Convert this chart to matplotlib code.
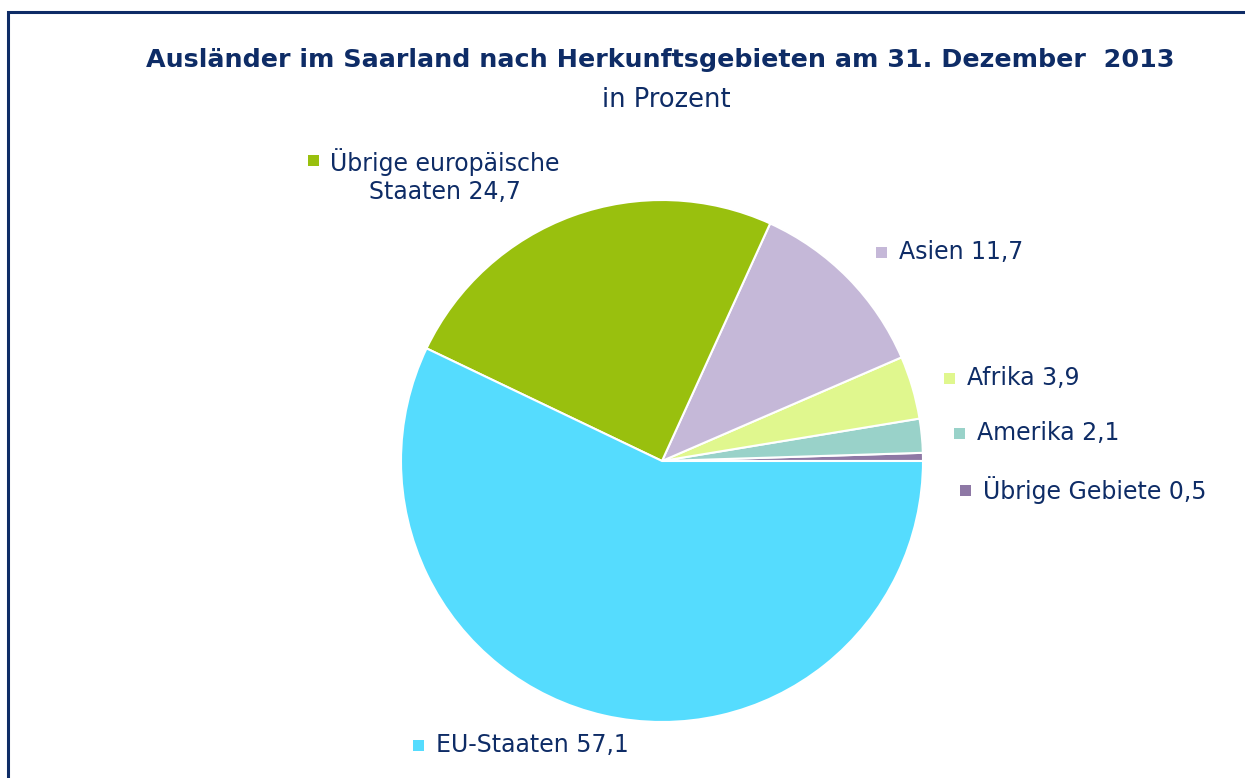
import matplotlib.pyplot as plt
from matplotlib.patches import Rectangle

# Data (order: counterclockwise from 3 o'clock)
regions = ['Übrige Gebiete', 'Amerika', 'Afrika', 'Asien',
           'Übrige europäische\nStaaten', 'EU-Staaten']
shares = [0.5, 2.1, 3.9, 11.7, 24.7, 57.1]
colors = ['#8E78A5', '#99D2C9', '#E0F78E', '#C5B8D8', '#99C00E', '#55DCFE']

# Label anchor positions in pixels (left of marker, vertical centre), y from top
label_pos = [(960, 490), (954, 433), (944, 378), (876, 252), (308, 160), (413, 745)]

NAVY = '#0E2C66'
W, H = 1245, 778
FS = 17.0

fig = plt.figure(figsize=(W / 100, H / 100), dpi=100)
ax = fig.add_axes([0, 0, 1, 1])
ax.set_xlim(0, W)
ax.set_ylim(0, H)
ax.set_aspect('equal')
ax.axis('off')

# Frame (cut off at right and bottom like the reference)
ax.add_patch(Rectangle((8, -20), W + 40, H - 12 + 20, fill=False,
                       edgecolor=NAVY, linewidth=2.2))

ax.pie(shares, colors=colors, startangle=0, counterclock=True,
       center=(662, H - 461), radius=261,
       wedgeprops=dict(edgecolor='white', linewidth=1.5))
ax.set_xlim(0, W)
ax.set_ylim(0, H)

ax.text(660, H - 60, 'Ausländer im Saarland nach Herkunftsgebieten am 31. Dezember  2013',
        ha='center', va='center', fontsize=18.3, fontweight='bold', color=NAVY)
ax.text(666, H - 100, 'in Prozent', ha='center', va='center', fontsize=18.5, color=NAVY)

for name, val, col, (x, y) in zip(regions, shares, colors, label_pos):
    ax.add_patch(Rectangle((x, H - y - 5.5), 11, 11, facecolor=col, edgecolor='none'))
    txt = f'{name} {val:.1f}'.replace('.', ',')
    if '\n' in name:
        ax.text(445, H - 176, txt, ha='center', va='center', fontsize=FS,
                color=NAVY, linespacing=1.25, multialignment='center')
    else:
        ax.text(x + 23, H - y, txt, ha='left', va='center', fontsize=FS, color=NAVY)

fig.savefig('out.png', dpi=100)
